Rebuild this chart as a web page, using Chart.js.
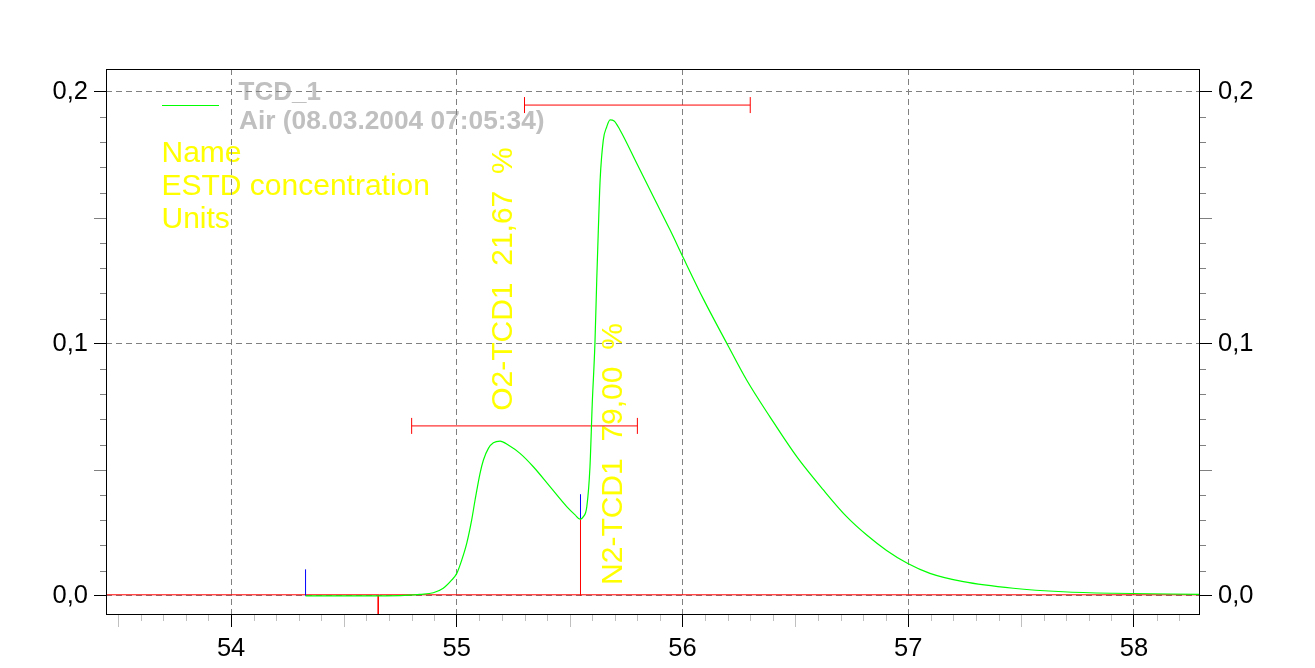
<!DOCTYPE html>
<html>
<head>
<meta charset="utf-8">
<script src="https://cdn.jsdelivr.net/npm/chart.js@4.4.1/dist/chart.umd.min.js"></script>
<style>
html,body{margin:0;padding:0;background:#fff;overflow:hidden}
#wrap{width:1315px;height:668px;position:relative}
</style>
</head>
<body>
<div id="wrap"><canvas id="c"></canvas></div>
<script>
// ---------- data ----------
const curveTime = [54.330, 54.600, 54.750, 54.837, 54.896, 54.940, 54.978, 55.000, 55.022, 55.044,
  55.066, 55.081, 55.103, 55.118, 55.140, 55.162, 55.192, 55.228, 55.280, 55.339,
  55.413, 55.487, 55.524, 55.546, 55.560, 55.576, 55.590, 55.600, 55.612, 55.620,
  55.627, 55.635, 55.649, 55.664, 55.679, 55.697, 55.723, 55.797, 55.871, 55.945,
  56.004, 56.092, 56.196, 56.284, 56.388, 56.506, 56.624, 56.727, 56.816, 56.904,
  56.996, 57.096, 57.244, 57.465, 57.687, 57.908, 58.292];
const curveSignal = [0, 0, 0.0001, 0.0006, 0.0012, 0.0030, 0.0063, 0.0089, 0.0142, 0.0208,
  0.0301, 0.0380, 0.0486, 0.0539, 0.0585, 0.0607, 0.0614, 0.0598, 0.0565, 0.0512,
  0.0433, 0.0354, 0.0321, 0.0304, 0.0313, 0.0354, 0.0512, 0.0760, 0.1002, 0.1253,
  0.1451, 0.1650, 0.1808, 0.1860, 0.1888, 0.1884, 0.1848, 0.1716, 0.1583, 0.1451,
  0.1340, 0.1178, 0.1002, 0.0856, 0.0709, 0.0552, 0.0420, 0.0314, 0.0241, 0.0180,
  0.0129, 0.0089, 0.0056, 0.0030, 0.0016, 0.0010, 0.0006];

const baselineTime = [53.446, 58.2924];
const baselineSignal = [0.0004, 0.0004];

// integration windows (horizontal bars)
const windowStart = [54.80, 55.30];
const windowEnd = [55.80, 56.30];
const windowLevel = [0.0674, 0.1947];

// vertical event markers
const markerTime = [54.330, 54.652, 55.548, 55.548];
const markerFrom = [0, 0, 0, 0.0304];
const markerTo = [0.0105, -0.0076, 0.0304, 0.0403];
const markerColor = ['#0000ff', '#ff0000', '#ff0000', '#0000ff'];

// peak labels
const peakNames = ['O2-TCD1', 'N2-TCD1'];
const peakConc = ['21,67', '79,00'];
const peakUnit = '%';
const peakLabelTime = [55.243, 55.731];
const peakLabelStart = [0.0734, 0.0043];

// axes
const xTicks = [54, 55, 56, 57, 58];
const xTickLabels = ['54', '55', '56', '57', '58'];
const yTicks = [0, 0.1, 0.2];
const yTickLabels = ['0,0', '0,1', '0,2'];
const xMin = 53.446, xMax = 58.2924;
const yMin = -0.00762, yMax = 0.20901;

const seriesName = 'TCD_1';
const sampleName = 'Air (08.03.2004 07:05:34)';
const legendLines = ['Name', 'ESTD concentration', 'Units'];

// ---------- chart ----------
const FONT = "'Liberation Sans', Arial, sans-serif";

const datasets = [];
datasets.push({
  label: 'curve',
  data: curveTime.map((t, i) => ({x: t, y: curveSignal[i]})),
  borderColor: '#00ff00', borderWidth: 1.2, pointRadius: 0,
  cubicInterpolationMode: 'monotone', fill: false
});
for (let i = 0; i < windowStart.length; i++) {
  datasets.push({
    label: 'window' + i,
    data: [{x: windowStart[i], y: windowLevel[i]}, {x: windowEnd[i], y: windowLevel[i]}],
    borderColor: '#ff0000', borderWidth: 1,
    pointStyle: 'line', pointRotation: 90, pointRadius: 8,
    pointBorderColor: '#ff0000', pointBorderWidth: 1, pointBackgroundColor: '#ff0000'
  });
}
for (let i = 0; i < markerTime.length; i++) {
  datasets.push({
    label: 'marker' + i,
    data: [{x: markerTime[i], y: markerFrom[i]}, {x: markerTime[i], y: markerTo[i]}],
    borderColor: markerColor[i], borderWidth: 1, pointRadius: 0
  });
}
datasets.push({
  label: 'baseline',
  data: baselineTime.map((t, i) => ({x: t, y: baselineSignal[i]})),
  borderColor: '#ff0000', borderWidth: 1, pointRadius: 0
});

const bgPlugin = {
  id: 'bgtext',
  beforeDraw(chart) {
    const ctx = chart.ctx;
    ctx.save();
    ctx.fillStyle = '#ffffff';
    ctx.fillRect(0, 0, chart.width, chart.height);
    // legend
    ctx.strokeStyle = '#00ff00';
    ctx.lineWidth = 1;
    ctx.beginPath(); ctx.moveTo(162, 105.5); ctx.lineTo(219, 105.5); ctx.stroke();
    ctx.fillStyle = '#c0c0c0';
    ctx.font = 'bold 26px ' + FONT;
    ctx.textBaseline = 'alphabetic';
    ctx.textAlign = 'left';
    ctx.fillText(seriesName, 238.5, 99.5);
    ctx.font = 'bold 26.3px ' + FONT;
    ctx.fillText(sampleName, 239, 129);
    ctx.fillStyle = '#ffff00';
    ctx.font = '30px ' + FONT;
    legendLines.forEach((s, i) => ctx.fillText(s, 161.5, 161.7 + i * 33.3));
    // rotated peak labels
    const xs = chart.scales.x, ys = chart.scales.y;
    ctx.font = '30px ' + FONT;
    for (let i = 0; i < peakNames.length; i++) {
      const px = xs.getPixelForValue(peakLabelTime[i]);
      const py = ys.getPixelForValue(peakLabelStart[i]);
      ctx.save();
      ctx.translate(px, py);
      ctx.rotate(-Math.PI / 2);
      ctx.fillText(peakNames[i] + '  ' + peakConc[i] + '  ' + peakUnit, 0, 0);
      ctx.restore();
    }
    ctx.restore();
  },
  afterDraw(chart) {
    const ctx = chart.ctx;
    const a = chart.chartArea;
    const xs = chart.scales.x, ys = chart.scales.y;
    ctx.save();
    // minor ticks x
    ctx.lineWidth = 1;
    for (let k = Math.ceil(xMin * 10); k <= Math.floor(xMax * 10); k++) {
      if (k % 10 === 0) continue;
      const px = Math.round(xs.getPixelForValue(k / 10)) + 0.5;
      const len = (k % 5 === 0) ? 12 : 6;
      ctx.strokeStyle = '#c0c0c0';
      ctx.beginPath(); ctx.moveTo(px, a.bottom); ctx.lineTo(px, a.bottom + len); ctx.stroke();
    }
    // minor ticks y (both sides)
    for (let k = Math.ceil(yMin * 100); k <= Math.floor(yMax * 100); k++) {
      if (k % 10 === 0) continue;
      const py = Math.round(ys.getPixelForValue(k / 100)) + 0.5;
      const len = (k % 5 === 0) ? 12 : 6;
      ctx.strokeStyle = '#808080';
      ctx.beginPath(); ctx.moveTo(a.left, py); ctx.lineTo(a.left - len, py); ctx.stroke();
      ctx.beginPath(); ctx.moveTo(a.right, py); ctx.lineTo(a.right + len, py); ctx.stroke();
    }
    // frame
    ctx.strokeStyle = '#000000';
    ctx.lineWidth = 1;
    ctx.strokeRect(a.left + 0.5, a.top + 0.5, a.right - a.left - 1, a.bottom - a.top - 1);
    ctx.restore();
  }
};

const yAxisCommon = {
  type: 'linear', min: yMin, max: yMax,
  border: {display: false, dash: [6, 4]},
  ticks: {
    color: '#000', font: {family: FONT, size: 25.5}, padding: 6,
    callback: (v, i) => yTickLabels[i]
  },
  afterBuildTicks: s => { s.ticks = yTicks.map(v => ({value: v})); }
};

new Chart(document.getElementById('c'), {
  type: 'line',
  data: {datasets},
  options: {
    responsive: true, maintainAspectRatio: false, animation: false,
    devicePixelRatio: 1,
    layout: {padding: {top: 69, left: 0, right: 0, bottom: 0}},
    plugins: {legend: {display: false}, tooltip: {enabled: false}},
    events: [],
    scales: {
      x: {
        type: 'linear', min: xMin, max: xMax, position: 'bottom',
        border: {display: false, dash: [6, 4]},
        grid: {color: '#808080', lineWidth: 1, tickColor: '#000', tickLength: 12, tickWidth: 1},
        ticks: {
          color: '#000', font: {family: FONT, size: 25.5}, padding: 7,
          maxRotation: 0, autoSkip: false,
          callback: (v, i) => xTickLabels[i]
        },
        afterBuildTicks: s => { s.ticks = xTicks.map(v => ({value: v})); },
        afterFit: s => { s.height = 53; }
      },
      y: Object.assign({}, yAxisCommon, {
        position: 'left',
        grid: {color: '#808080', lineWidth: 1, tickColor: '#000', tickLength: 12, tickWidth: 1},
        afterFit: s => { s.width = 106; }
      }),
      y2: Object.assign({}, yAxisCommon, {
        position: 'right',
        grid: {drawOnChartArea: false, color: '#808080', tickColor: '#000', tickLength: 12, tickWidth: 1},
        afterFit: s => { s.width = 115; }
      })
    }
  },
  plugins: [bgPlugin]
});
</script>
</body>
</html>
